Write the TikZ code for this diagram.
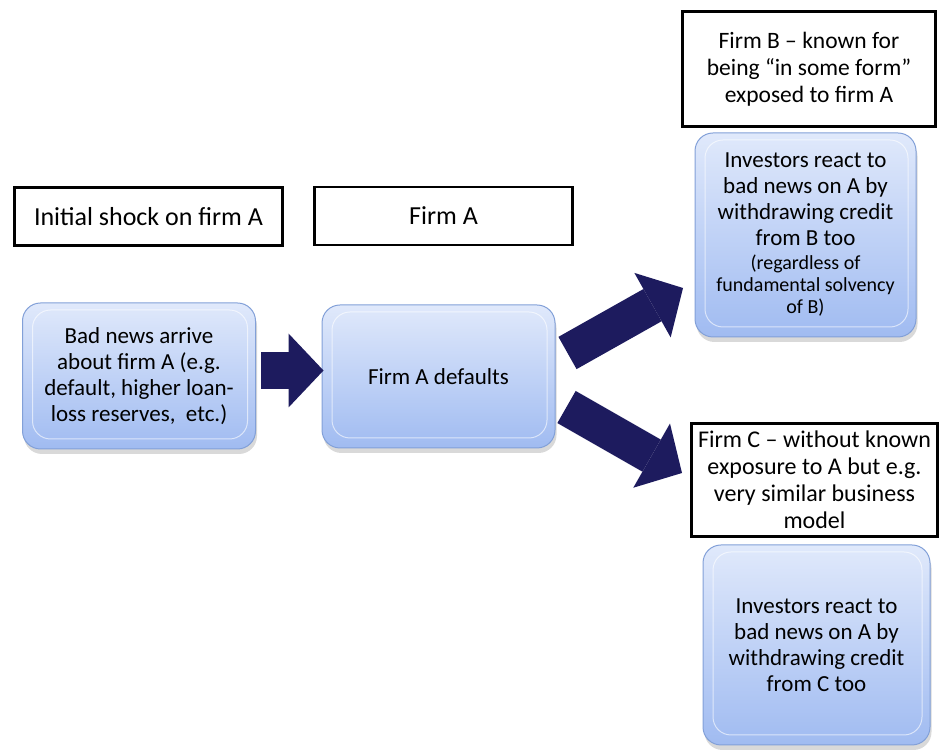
\documentclass[tikz,border=0pt]{standalone}
\usepackage{fontspec}
\setmainfont{Carlito}
\usetikzlibrary{arrows.meta,shadows}

\definecolor{navy}{RGB}{29,27,94}
\definecolor{boxtop}{RGB}{224,233,251}
\definecolor{boxbottom}{RGB}{160,187,241}
\definecolor{boxline}{RGB}{130,160,216}

\newcommand{\smalltxt}{\fontsize{20}{22}\selectfont}

\tikzset{
    headbox/.style={draw=black, line width=2.7pt, fill=white, align=center, inner sep=0pt,
        font=\fontsize{23.5}{27}\selectfont},
    bluebox/.style={rounded corners=18pt, draw=boxline, line width=1pt,
        top color=boxtop, bottom color=boxbottom, align=center, inner sep=0pt,
        font=\fontsize{23}{26}\selectfont,
        drop shadow={opacity=0.3, shadow xshift=1.5pt, shadow yshift=-5pt},
        path picture={\draw[white, opacity=0.6, line width=1pt]
            ([shift={(10pt,-7pt)}]path picture bounding box.north west) rectangle
            ([shift={(-8pt,10pt)}]path picture bounding box.south east);}},
    blockarrow/.style={draw=navy, line width=37pt,
        -{Triangle[length=35pt, width=74pt, line width=0pt 0 0]}}
}

\begin{document}
\begin{tikzpicture}[x=1pt, y=1pt]
    \useasboundingbox (0,0) rectangle (940,754);

    %% Headings
    \node[headbox, minimum width=268pt, minimum height=58pt, font=\fontsize{26}{30}\selectfont] (shock) at (148.5,537.5) {Initial shock on firm A};
    \node[headbox, minimum width=258pt, minimum height=58pt, font=\fontsize{26}{30}\selectfont] (firmA) at (443.5,538) {Firm A};
    \node[headbox, minimum width=253pt, minimum height=115pt] (firmB) at (809,685)
        {Firm B -- known for\\being “in some form”\\exposed to firm A};
    \node[headbox, minimum width=246pt, minimum height=113pt, font=\fontsize{24}{27}\selectfont] (firmC) at (814.5,274)
        {Firm C -- without known\\exposure to A but e.g.\\very similar business\\model};

    %% Events
    \node[bluebox, minimum width=233pt, minimum height=146pt] (news) at (139,378)
        {Bad news arrive\\about firm A (e.g.\\default, higher loan-\\loss reserves,~ etc.)};
    \node[bluebox, minimum width=233pt, minimum height=143pt] (defaults) at (438.5,377.5)
        {Firm A defaults};
    \node[bluebox, minimum width=221pt, minimum height=204pt] (invB) at (805.5,519)
        {Investors react to\\bad news on A by\\withdrawing credit\\from B too\\[-2pt]
         {\smalltxt (regardless of}\\[-4pt]{\smalltxt fundamental solvency}\\[-4pt]{\smalltxt of B)}};
    \node[bluebox, minimum width=227pt, minimum height=200pt] (invC) at (816.5,109)
        {Investors react to\\bad news on A by\\withdrawing credit\\from C too};

    %% Block arrows
    \coordinate (r0) at ([shift={(5,5.5)}]news.east);
    \coordinate (r1) at ([shift={(2,6)}]defaults.west);
    \draw[blockarrow] (r0) -- (r1);

    \coordinate (u0) at ([shift={(12,23.5)}]defaults.east);
    \coordinate (u1) at (683,466);
    \draw[blockarrow] (u0) -- (u1);

    \coordinate (d0) at ([shift={(11,-30.5)}]defaults.east);
    \coordinate (d1) at (682,281);
    \draw[blockarrow] (d0) -- (d1);

\end{tikzpicture}
\end{document}
